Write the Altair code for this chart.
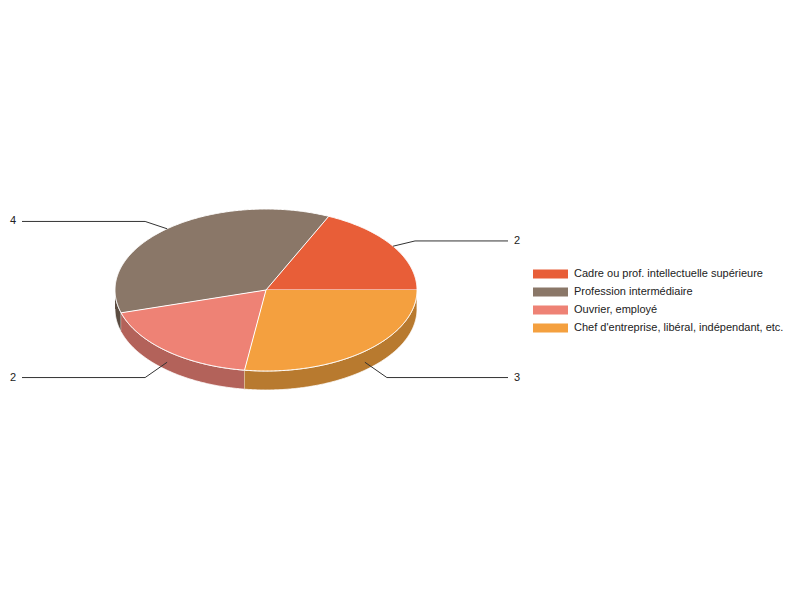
import math
import altair as alt
import pandas as pd

# ---------------- data ----------------
categories = [
    "Cadre ou prof. intellectuelle supérieure",
    "Profession intermédiaire",
    "Ouvrier, employé",
    "Chef d'entreprise, libéral, indépendant, etc.",
]
values = [2, 4, 2, 3]
value_labels = ["2", "4", "2", "3"]

# ---------------- styles ----------------
TOP_COLORS = ["#e85e38", "#8a7768", "#ee8275", "#f4a03f"]
SIDE_COLORS = ["#c04a2c", "#5b4c41", "#b3625a", "#b87a2f"]
FONT = "Liberation Sans"

# ---------------- layout (page pixels) ----------------
CX, CY, RX, RY, DEPTH = 266, 290, 151, 81, 19
LEFT_END, RIGHT_END = 22, 508
LEG_X, LEG_Y0, LEG_DY, LEG_W, LEG_H = 533, 274, 18, 35, 9

side_keys = [c + " (side)" for c in categories]
color_scale = alt.Scale(domain=categories + side_keys, range=TOP_COLORS + SIDE_COLORS)
xs = alt.Scale(domain=[8, 792], nice=False, zero=False)
ys = alt.Scale(domain=[8, 592], nice=False, zero=False, reverse=True)

total = float(sum(values))
bounds = [0.0]
for v in values:
    bounds.append(bounds[-1] + v / total * 2 * math.pi)


def ept(a, dy=0.0):
    return CX + RX * math.cos(a), CY - RY * math.sin(a) + dy


# polygons: tops and front side walls
rows = []
for i, cat in enumerate(categories):
    a0, a1 = bounds[i], bounds[i + 1]
    # side wall (visible front half: pi..2pi)
    lo, hi = max(a0, math.pi), min(a1, 2 * math.pi)
    if lo < hi:
        n = max(4, int(math.degrees(hi - lo) * 2))
        pts = [lo + (hi - lo) * k / n for k in range(n + 1)]
        o = 0
        for a in pts:
            x, y = ept(a)
            rows.append(dict(pid=f"s{i}", layer=0, key=side_keys[i], ord=o, x=x, y=y)); o += 1
        for a in reversed(pts):
            x, y = ept(a, DEPTH)
            rows.append(dict(pid=f"s{i}", layer=0, key=side_keys[i], ord=o, x=x, y=y)); o += 1
    # top face
    n = max(4, int(math.degrees(a1 - a0) * 2))
    o = 0
    rows.append(dict(pid=f"t{i}", layer=1, key=cat, ord=o, x=CX, y=CY)); o += 1
    for k in range(n + 1):
        x, y = ept(a0 + (a1 - a0) * k / n)
        rows.append(dict(pid=f"t{i}", layer=1, key=cat, ord=o, x=x, y=y)); o += 1
poly = pd.DataFrame(rows)

# leader lines and value labels
lrows, trows = [], []
for i, cat in enumerate(categories):
    m = (bounds[i] + bounds[i + 1]) / 2
    s, c = math.sin(m), math.cos(m)
    lower = s < 0
    ax, ay = ept(m, DEPTH * 0.58 if lower else 0)
    ly = CY - 1.12 * RY * s + (DEPTH if lower else 0)
    sgn = 1 if c >= 0 else -1
    ex = ax + sgn * 22
    endx = RIGHT_END if sgn > 0 else LEFT_END
    for o, (x, y) in enumerate([(ax, ay), (ex, ly), (endx, ly)]):
        lrows.append(dict(pid=i, ord=o, x=x, y=y))
    trows.append(dict(label=value_labels[i], x=endx + sgn * 6, y=ly,
                      side="right" if sgn > 0 else "left"))
leaders = pd.DataFrame(lrows)
tl = pd.DataFrame(trows)

leg = pd.DataFrame(dict(
    key=categories,
    x=[LEG_X] * 4,
    x2=[LEG_X + LEG_W] * 4,
    y=[LEG_Y0 + LEG_DY * i - LEG_H / 2 for i in range(4)],
    y2=[LEG_Y0 + LEG_DY * i + LEG_H / 2 for i in range(4)],
    yc=[LEG_Y0 + LEG_DY * i for i in range(4)],
    tx=[LEG_X + LEG_W + 6] * 4,
))


def X(f="x"):
    return alt.X(f"{f}:Q", scale=xs, axis=None)


def Y(f="y"):
    return alt.Y(f"{f}:Q", scale=ys, axis=None)


sides = alt.Chart(poly[poly["layer"] == 0]).mark_line(
    filled=True, stroke="#ffffff", strokeWidth=0.8, strokeJoin="round"
).encode(
    x=X(), y=Y(), order=alt.Order("ord:Q"), detail="pid:N",
    color=alt.Color("key:N", scale=color_scale, legend=None),
)
tops = alt.Chart(poly[poly["layer"] == 1]).mark_line(
    filled=True, stroke="#ffffff", strokeWidth=1, strokeJoin="round"
).encode(
    x=X(), y=Y(), order=alt.Order("ord:Q"), detail="pid:N",
    color=alt.Color("key:N", scale=color_scale, legend=None),
)
lines = alt.Chart(leaders).mark_line(color="#333333", strokeWidth=1).encode(
    x=X(), y=Y(), order=alt.Order("ord:Q"), detail="pid:N",
)
left_txt = alt.Chart(tl[tl["side"] == "left"]).mark_text(
    align="right", baseline="middle", font=FONT, fontSize=11, color="#222222"
).encode(x=X(), y=Y(), text="label:N")
right_txt = alt.Chart(tl[tl["side"] == "right"]).mark_text(
    align="left", baseline="middle", font=FONT, fontSize=11, color="#222222"
).encode(x=X(), y=Y(), text="label:N")
leg_rect = alt.Chart(leg).mark_rect().encode(
    x=X(), x2="x2:Q", y=Y(), y2="y2:Q",
    color=alt.Color("key:N", scale=color_scale, legend=None),
)
leg_txt = alt.Chart(leg).mark_text(
    align="left", baseline="middle", font=FONT, fontSize=11, color="#222222"
).encode(x=X("tx"), y=Y("yc"), text="key:N")

chart = alt.layer(sides, tops, lines, left_txt, right_txt, leg_rect, leg_txt).properties(
    width=784, height=584, autosize="none", padding=0
).configure_view(strokeWidth=0)

chart.save("out.html", embed_options={"renderer": "svg", "actions": False})
